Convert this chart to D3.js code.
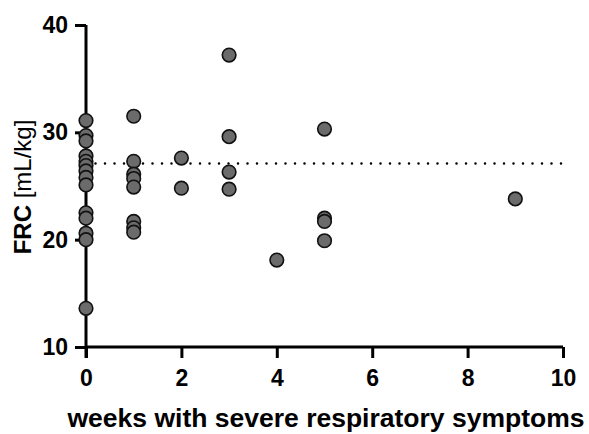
<!DOCTYPE html>
<html>
<head>
<meta charset="utf-8">
<script src="https://cdn.jsdelivr.net/npm/d3@7"></script>
<style>
  body { margin: 0; background: #fff; }
  text { font-family: "Liberation Sans", Arial, sans-serif; }
</style>
</head>
<body>
<svg id="chart" width="589" height="434"></svg>
<script>
// weeks with severe respiratory symptoms
let weeks = [0,0,0,0,0,0,0,0,0,0,0,0,0,0,
             1,1,1,1,1,1,1,1,
             2,2,
             3,3,3,3,
             4,
             5,5,5,5,
             9]
// FRC mL/kg
let frc = [31.1,29.7,29.2,27.8,27.3,26.9,26.4,25.8,25.1,22.5,22.0,20.6,20.0,13.6,
           31.5,27.3,26.1,25.7,24.9,21.7,21.1,20.7,
           27.6,24.8,
           37.2,29.6,26.3,24.7,
           18.1,
           30.3,22.0,21.7,19.9,
           23.8]
let meanLine = 27.1
let xTicks = [0,2,4,6,8,10]
let yTicks = [10,20,30,40]

let svg = d3.select('#chart')

let xScale = d3.scaleLinear().domain([0,10]).range([86,563])
let yScale = d3.scaleLinear().domain([10,40]).range([347,25])

// x axis
let xAxis = svg.append('g')
    .attr('transform', 'translate(0,' + yScale(10) + ')')
    .call(d3.axisBottom(xScale).tickValues(xTicks).tickSize(11).tickPadding(12).tickSizeOuter(0))
// y axis
let yAxis = svg.append('g')
    .attr('transform', 'translate(' + xScale(0) + ',0)')
    .call(d3.axisLeft(yScale).tickValues(yTicks).tickSize(11).tickPadding(7).tickSizeOuter(0))

for (let ax of [xAxis, yAxis]) {
    ax.select('.domain').attr('stroke', '#000').attr('stroke-width', 3)
    ax.selectAll('.tick line').attr('stroke', '#000').attr('stroke-width', 3)
    ax.selectAll('.tick text')
        .attr('fill', '#000')
        .style('font-size', '23px')
        .style('font-weight', 'bold')
        .style('font-family', '"Liberation Sans", Arial, sans-serif')
}
// y axis line continues below origin as x tick for 0
yAxis.select('.domain').attr('d', 'M0,' + yScale(40) + 'V' + (yScale(10) + 11))
xAxis.select('.domain').attr('d', 'M0,0H' + (xScale(10) - xScale(0))).attr('transform', 'translate(' + xScale(0) + ',0)')

// dotted reference line
svg.append('line')
    .attr('x1', xScale(0)).attr('x2', xScale(10))
    .attr('y1', yScale(meanLine)).attr('y2', yScale(meanLine))
    .attr('stroke', '#000')
    .attr('stroke-width', 2.5)
    .attr('stroke-linecap', 'round')
    .attr('stroke-dasharray', '0,9.5')

// points
svg.append('g').selectAll('circle')
    .data(weeks)
    .enter()
    .append('circle')
    .attr('cx', (d) => xScale(d))
    .attr('cy', (d, i) => yScale(frc[i]))
    .attr('r', 6.8)
    .attr('fill', '#6b6b6b')
    .attr('stroke', '#111')
    .attr('stroke-width', 1.6)

// axis titles
svg.append('text')
    .attr('x', 326).attr('y', 427)
    .attr('text-anchor', 'middle')
    .style('font-size', '26.5px')
    .style('font-weight', 'bold')
    .text('weeks with severe respiratory symptoms')

let yTitle = svg.append('text')
    .attr('transform', 'translate(31,187) rotate(-90)')
    .attr('text-anchor', 'middle')
    .style('font-size', '24px')
yTitle.append('tspan').style('font-weight', 'bold').text('FRC ')
yTitle.append('tspan').text('[mL/kg]')
</script>
</body>
</html>
